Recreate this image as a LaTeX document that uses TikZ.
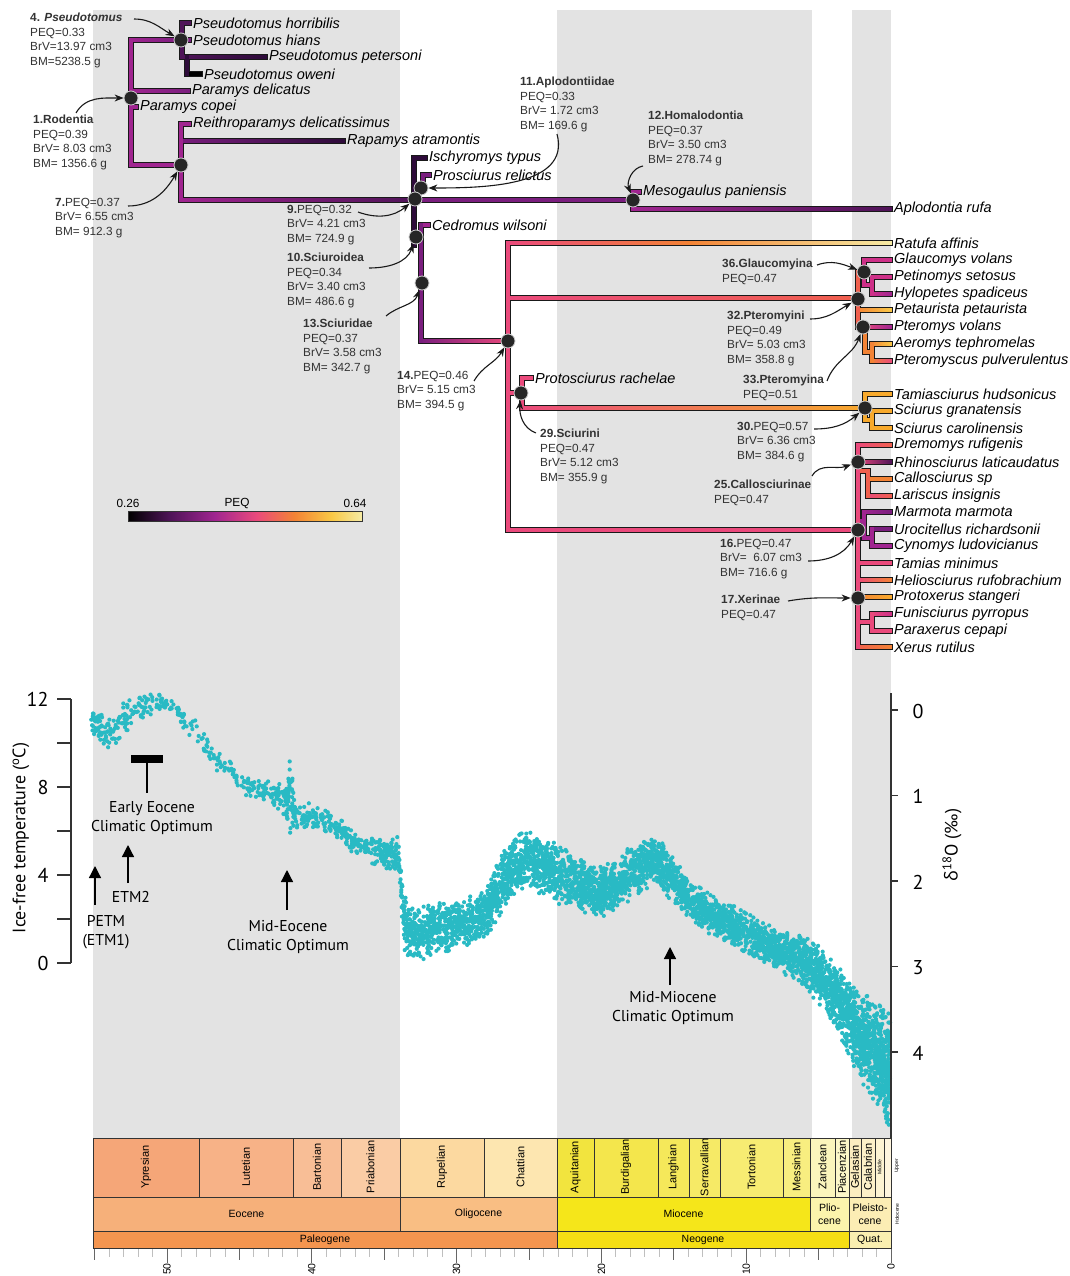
\documentclass[tikz,border=0pt]{standalone}
\usepackage{fontspec}
\setmainfont{Liberation Sans}
\newfontfamily\plotfont{PT Sans}
\newfontfamily\grkfont{Open Sans}
\usetikzlibrary{arrows.meta,positioning,calc}

% PEQ colour ramp
\definecolor{pq26}{HTML}{000000}
\definecolor{pq30}{HTML}{2E0B3A}
\definecolor{pq33}{HTML}{4F1458}
\definecolor{pq37}{HTML}{7A1E7E}
\definecolor{pq40}{HTML}{A02590}
\definecolor{pq44}{HTML}{CE3088}
\definecolor{pq47}{HTML}{EA4A7C}
\definecolor{pq50}{HTML}{F0604E}
\definecolor{pq53}{HTML}{F38335}
\definecolor{pq57}{HTML}{F7A92C}
\definecolor{pq60}{HTML}{F9C846}
\definecolor{pq64}{HTML}{F6EBA4}
\definecolor{quakeblue}{HTML}{29BAC4}
% time scale
\definecolor{ypr}{HTML}{F5A678}
\definecolor{lut}{HTML}{F7B287}
\definecolor{bar}{HTML}{F8BE96}
\definecolor{pri}{HTML}{FACCA5}
\definecolor{rup}{HTML}{FCD9A0}
\definecolor{cha}{HTML}{FDE6B0}
\definecolor{aqu}{HTML}{F2E43E}
\definecolor{bur}{HTML}{F4E64C}
\definecolor{lan}{HTML}{F5E85A}
\definecolor{ser}{HTML}{F6EA66}
\definecolor{tor}{HTML}{F7EC72}
\definecolor{mes}{HTML}{F8EE80}
\definecolor{zan}{HTML}{FBF5BC}
\definecolor{pia}{HTML}{FCF7C8}
\definecolor{gel}{HTML}{FCEDC0}
\definecolor{cal}{HTML}{FDF0C8}
\definecolor{mdl}{HTML}{FDF3D2}
\definecolor{upp}{HTML}{FEF5DE}
\definecolor{eoc}{HTML}{F6B07A}
\definecolor{oli}{HTML}{F9BE83}
\definecolor{mio}{HTML}{F5E61A}
\definecolor{pli}{HTML}{FBF4AC}
\definecolor{ple}{HTML}{FCEDB4}
\definecolor{pal}{HTML}{F4954F}
\definecolor{neo}{HTML}{F5DE14}
\definecolor{qua}{HTML}{FAEFB0}

\pgfdeclarehorizontalshading{peqbar}{100bp}{color(0bp)=(pq26); color(25bp)=(pq26); color(34bp)=(pq33); color(43.5bp)=(pq40); color(52.5bp)=(pq47); color(60.5bp)=(pq53); color(68.5bp)=(pq60); color(75bp)=(pq64); color(100bp)=(pq64)}

\pgfdeclarelayer{bands}
\pgfdeclarelayer{outline}
\pgfsetlayers{bands,outline,main}

% tree branch: colour, path
\newcommand\tb[2]{%
  \begin{pgfonlayer}{outline}\draw[tbout] #2;\end{pgfonlayer}
  \draw[tbin,#1] #2;}
% shaded horizontal branch: x1, y, x2, colour1, colour2
\newcommand\tg[5]{%
  \begin{pgfonlayer}{outline}\draw[tbout] (#1,#2) -- (#3,#2);\end{pgfonlayer}
  \shade[left color=#4,right color=#5] ({#1-1.9},{#2-1.9}) rectangle ({#3+1.9},{#2+1.9});}

\begin{document}
\begin{tikzpicture}[x=1pt,y=-1pt,
  tbout/.style={line width=6pt,black!90,line cap=rect},
  tbin/.style={line width=3.8pt,line cap=rect},
  taxon/.style={anchor=west,inner xsep=3pt,inner ysep=0pt,font=\fontsize{14.5}{16}\selectfont\itshape},
  anno/.style={anchor=north west,align=left,inner sep=0pt,text=black!80,font=\fontsize{11.8}{14.5}\selectfont},
  callarr/.style={-{Stealth[length=9pt,width=7pt]},line width=1.1pt,black!90},
  ndot/.style={circle,fill=black!85,draw=white!80!black,line width=0.8pt,minimum size=14pt,inner sep=0pt},
  band/.style={fill=black!11},
  tsbox/.style={draw=black!80,line width=0.7pt},
  tsrot/.style={rotate=90,font=\fontsize{11}{12}\selectfont},
  tslab/.style={font=\fontsize{10.5}{12.5}\selectfont,align=center},
  uparr/.style={-{Triangle[length=12pt,width=12pt]},line width=1.3pt},
  clab/.style={font=\plotfont\fontsize{15.7}{19}\selectfont,align=center},
  axnum/.style={font=\plotfont\fontsize{20}{20}\selectfont}]

\useasboundingbox (0,0) rectangle (1070,1276);

% epoch bands
\begin{pgfonlayer}{bands}
  \fill[band] (93,10) rectangle (400,1138);
  \fill[band] (557,10) rectangle (812,1138);
  \fill[band] (852,10) rectangle (891,1138);
\end{pgfonlayer}

%%% tree: horizontals
\tg{131}{40}{181}{pq40}{pq37}
\tg{131}{91}{188}{pq40}{pq37}
\tb{pq40}{(131,107) -- (136,107)}
\tg{131}{165}{181}{pq40}{pq40}
\tb{pq33}{(182,23) -- (189,23)}
\tb{pq37}{(182,40) -- (189,40)}
\tg{182}{57}{265}{pq33}{pq30}
\tb{pq26}{(187,74) -- (200,74)}
\tb{pq40}{(181,124) -- (189,124)}
\tg{181}{141}{343}{pq37}{pq30}
\tg{181}{200}{415}{pq40}{pq33}
\tb{pq30}{(414,158) -- (425,158)}
\tb{pq37}{(423,175) -- (429,175)}
\tg{414}{200}{633}{pq37}{pq37}
\tb{pq40}{(633,192) -- (639,192)}
\tg{633}{209}{890}{pq40}{pq33}
\tb{pq40}{(421,225) -- (428,225)}
\tg{421}{341}{508}{pq37}{pq47}
% Sciuridae
\tg{508}{243}{690}{pq47}{pq53}
\tg{690}{243}{890}{pq53}{pq64}
\tg{508}{298}{858}{pq47}{pq50}
\tb{pq47}{(508,393) -- (521,393)}
\tb{pq47}{(522,378) -- (531,378)}
\tg{522}{408}{865}{pq47}{pq57}
\tg{508}{530}{858}{pq47}{pq47}
% Pteromyini
\tb{pq47}{(858,272) -- (864,272)}
\tg{864}{260}{890}{pq44}{pq44}
\tb{pq44}{(864,285) -- (872,285)}
\tb{pq44}{(872,277) -- (890,277)}
\tg{872}{294}{890}{pq44}{pq40}
\tg{858}{310}{890}{pq53}{pq60}
\tg{863}{327}{890}{pq47}{pq40}
\tb{pq53}{(865,352) -- (872,352)}
\tg{872}{344}{890}{pq53}{pq60}
\tg{872}{361}{890}{pq53}{pq47}
% Sciurini
\tb{pq57}{(865,394) -- (890,394)}
\tb{pq57}{(865,420) -- (872,420)}
\tb{pq57}{(872,411) -- (890,411)}
\tb{pq57}{(872,428) -- (890,428)}
% Callosciurinae and Xerinae
\tg{858}{445}{890}{pq47}{pq50}
\tg{858}{462}{890}{pq47}{pq33}
\tb{pq50}{(858,471) -- (868,471)}
\tg{868}{479}{890}{pq53}{pq53}
\tg{868}{496}{890}{pq47}{pq50}
\tb{pq40}{(858,521) -- (864,521)}
\tg{864}{512}{890}{pq40}{pq37}
\tb{pq40}{(864,538) -- (872,538)}
\tb{pq37}{(872,529) -- (890,529)}
\tb{pq40}{(872,546) -- (890,546)}
\tb{pq47}{(858,563) -- (890,563)}
\tg{858}{580}{890}{pq47}{pq53}
\tg{858}{597}{890}{pq53}{pq57}
\tb{pq47}{(858,622) -- (872,622)}
\tg{872}{614}{890}{pq47}{pq44}
\tb{pq47}{(872,631) -- (890,631)}
\tg{858}{647}{890}{pq50}{pq53}

%%% tree: verticals
\tb{pq40}{(131,40) -- (131,165)}
\tb{pq33}{(182,23) -- (182,57)}
\tb{pq30}{(187,57) -- (187,74)}
\tb{pq40}{(181,124) -- (181,200)}
\tb{pq30}{(414,158) -- (414,245)}
\tb{pq37}{(423,175) -- (423,190)}
\tb{pq40}{(633,192) -- (633,209)}
\tb{pq37}{(421,225) -- (421,341)}
\tb{pq47}{(508,243) -- (508,530)}
\tb{pq47}{(522,378) -- (522,408)}
\tb{pq50}{(858,272) -- (858,327)}
\tb{pq44}{(864,260) -- (864,285)}
\tb{pq44}{(872,277) -- (872,294)}
\tb{pq53}{(865,327) -- (865,352)}
\tb{pq53}{(872,344) -- (872,361)}
\tb{pq57}{(865,394) -- (865,420)}
\tb{pq57}{(872,411) -- (872,428)}
\tb{pq47}{(858,445) -- (858,647)}
\tb{pq50}{(868,471) -- (868,496)}
\tb{pq40}{(864,512) -- (864,538)}
\tb{pq40}{(872,529) -- (872,546)}
\tb{pq47}{(872,614) -- (872,631)}

%%% tips
\node[taxon] (t01) at (190,23) {Pseudotomus horribilis};
\node[taxon] (t02) at (190,40) {Pseudotomus hians};
\node[taxon] (t03) at (266,57) {Pseudotomus petersoni};
\node[taxon] (t04) at (201,74) {Pseudotomus oweni};
\node[taxon] (t05) at (189,91) {Paramys delicatus};
\node[taxon] (t06) at (137,107) {Paramys copei};
\node[taxon] (t07) at (190,124) {Reithroparamys delicatissimus};
\node[taxon] (t08) at (344,141) {Rapamys atramontis};
\node[taxon] (t09) at (426,158) {Ischyromys typus};
\node[taxon] (t10) at (430,175) {Prosciurus relictus};
\node[taxon] (t11) at (640,192) {Mesogaulus paniensis};
\node[taxon] (t12) at (891,209) {Aplodontia rufa};
\node[taxon] (t13) at (429,225) {Cedromus wilsoni};
\node[taxon] (t14) at (891,243) {Ratufa affinis};
\node[taxon] (t15) at (891,260) {Glaucomys volans};
\node[taxon] (t16) at (891,277) {Petinomys setosus};
\node[taxon] (t17) at (891,294) {Hylopetes spadiceus};
\node[taxon] (t18) at (891,310) {Petaurista petaurista};
\node[taxon] (t19) at (891,327) {Pteromys volans};
\node[taxon] (t20) at (891,344) {Aeromys tephromelas};
\node[taxon] (t21) at (891,361) {Pteromyscus pulverulentus};
\node[taxon] (t22) at (532,378) {Protosciurus rachelae};
\node[taxon] (t23) at (891,394) {Tamiasciurus hudsonicus};
\node[taxon] (t24) at (891,411) {Sciurus granatensis};
\node[taxon] (t25) at (891,428) {Sciurus carolinensis};
\node[taxon] (t26) at (891,445) {Dremomys rufigenis};
\node[taxon] (t27) at (891,462) {Rhinosciurus laticaudatus};
\node[taxon] (t28) at (891,479) {Callosciurus sp};
\node[taxon] (t29) at (891,496) {Lariscus insignis};
\node[taxon] (t30) at (891,512) {Marmota marmota};
\node[taxon] (t31) at (891,529) {Urocitellus richardsonii};
\node[taxon] (t32) at (891,546) {Cynomys ludovicianus};
\node[taxon] (t33) at (891,563) {Tamias minimus};
\node[taxon] (t34) at (891,580) {Heliosciurus rufobrachium};
\node[taxon] (t35) at (891,597) {Protoxerus stangeri};
\node[taxon] (t36) at (891,614) {Funisciurus pyrropus};
\node[taxon] (t37) at (891,631) {Paraxerus cepapi};
\node[taxon] (t38) at (891,647) {Xerus rutilus};

%%% nodes
\node[ndot] (nPse) at (181,40) {};
\node[ndot] (nRod) at (131,98) {};
\node[ndot] (n7) at (181,165) {};
\node[ndot] (n11) at (421,188) {};
\node[ndot] (n9) at (415,199) {};
\node[ndot] (n12) at (633,200) {};
\node[ndot] (n10) at (416,237) {};
\node[ndot] (n13) at (422,283) {};
\node[ndot] (n14) at (508,341) {};
\node[ndot] (n29) at (521,393) {};
\node[ndot] (n36) at (864,272) {};
\node[ndot] (n32) at (858,299) {};
\node[ndot] (n33) at (863,327) {};
\node[ndot] (n30) at (865,408) {};
\node[ndot] (n25) at (858,462) {};
\node[ndot] (n16) at (858,530) {};
\node[ndot] (n17) at (858,598) {};

%%% node annotations
\node[anno] (a4) at (30,13) {\textbf{4. \textit{Pseudotomus}}\\PEQ=0.33\\BrV=13.97 cm3\\BM=5238.5 g};
\node[anno] (aRod) at (33,115) {\textbf{1.Rodentia}\\PEQ=0.39\\BrV= 8.03 cm3\\BM= 1356.6 g};
\node[anno] (a7) at (55,198) {\textbf{7.}PEQ=0.37\\BrV= 6.55 cm3\\BM= 912.3 g};
\node[anno] (a9) at (287,205) {\textbf{9.}PEQ=0.32\\BrV= 4.21 cm3\\BM= 724.9 g};
\node[anno] (a10) at (287,253) {\textbf{10.Sciuroidea}\\PEQ=0.34\\BrV= 3.40 cm3\\BM= 486.6 g};
\node[anno] (a13) at (303,319) {\textbf{13.Sciuridae}\\PEQ=0.37\\BrV= 3.58 cm3\\BM= 342.7 g};
\node[anno] (a14) at (397,371) {\textbf{14.}PEQ=0.46\\BrV= 5.15 cm3\\BM= 394.5 g};
\node[anno] (a29) at (540,429) {\textbf{29.Sciurini}\\PEQ=0.47\\BrV= 5.12 cm3\\BM= 355.9 g};
\node[anno] (a11) at (520,77) {\textbf{11.Aplodontiidae}\\PEQ=0.33\\BrV= 1.72 cm3\\BM= 169.6 g};
\node[anno] (a12) at (648,111) {\textbf{12.Homalodontia}\\PEQ=0.37\\BrV= 3.50 cm3\\BM= 278.74 g};
\node[anno] (a36) at (722,259) {\textbf{36.Glaucomyina}\\PEQ=0.47};
\node[anno] (a32) at (727,311) {\textbf{32.Pteromyini}\\PEQ=0.49\\BrV= 5.03 cm3\\BM= 358.8 g};
\node[anno] (a33) at (743,375) {\textbf{33.Pteromyina}\\PEQ=0.51};
\node[anno] (a30) at (737,422) {\textbf{30.}PEQ=0.57\\BrV= 6.36 cm3\\BM= 384.6 g};
\node[anno] (a25) at (714,480) {\textbf{25.Callosciurinae}\\PEQ=0.47};
\node[anno] (a16) at (720,539) {\textbf{16.}PEQ=0.47\\BrV=\ \ 6.07 cm3\\BM= 716.6 g};
\node[anno] (a17) at (721,595) {\textbf{17.Xerinae}\\PEQ=0.47};

\coordinate (s4) at (134,19);
\coordinate (sRod) at (76,113);
\coordinate (s7) at (128,206);
\coordinate (s9) at (358,212);
\coordinate (s10) at (369,268);
\coordinate (s13) at (386,316);
\coordinate (s14) at (474,381);
\coordinate (s29) at (536,433);
\coordinate (s11) at (557,134);
\coordinate (s12) at (643,166);
\coordinate (s36) at (817,265);
\coordinate (s32) at (810,319);
\coordinate (s33) at (827,381);
\coordinate (s30) at (814,429);
\coordinate (s25) at (812,476);
\coordinate (s16) at (808,561);
\coordinate (s17) at (788,601);

\draw[callarr] (s4) to[out=0,in=150] (nPse);
\draw[callarr] (sRod) to[out=60,in=180] (nRod);
\draw[callarr] (s7) to[out=0,in=-120] (n7);
\draw[callarr] (s9) to[out=-20,in=-140] (n9);
\draw[callarr] (s10) to[out=0,in=-110] (n10);
\draw[callarr] (s13) to[out=40,in=-110] (n13);
\draw[callarr] (s14) to[out=60,in=-120] (n14);
\draw[callarr] (s29) to[out=160,in=-95] (n29);
\draw[callarr] (s11) to[out=-75,in=0] (n11);
\draw[callarr] (s12) to[out=190,in=110] (n12);
\draw[callarr] (s36) to[out=20,in=160] (n36);
\draw[callarr] (s32) to[out=0,in=-150] (n32);
\draw[callarr] (s33) to[out=70,in=-110] (n33);
\draw[callarr] (s30) to[out=0,in=-140] (n30);
\draw[callarr] (s25) to[out=60,in=200] (n25);
\draw[callarr] (s16) to[out=0,in=-120] (n16);
\draw[callarr] (s17) to[out=10,in=180] (n17);

%%% PEQ colour bar
\shade[shading=peqbar] (128,511) rectangle (362,521);
\draw[black!80,line width=0.6pt] (128,511) rectangle (362,521);
\node[font=\fontsize{11.8}{13}\selectfont] (peqlo) at (128,503) {0.26};
\node[font=\fontsize{11.8}{13}\selectfont] (peqname) at (237,503) {PEQ};
\node[font=\fontsize{11.8}{13}\selectfont] (peqhi) at (355,503) {0.64};

%%% climate curve
\pgfmathsetseed{4}
\foreach \xa/\ya/\sa/\xb/\yb/\sb/\cnt in {
  91/728/20/100/728/20/32, 100/728/18/112/733/14/28, 112/733/14/125/718/18/28,
  125/718/18/140/706/14/28, 140/706/14/165/705/12/38, 165/705/12/180/715/10/18,
  180/715/10/200/735/12/22, 200/735/12/215/760/10/18, 215/760/10/230/768/8/16,
  230/768/8/245/786/9/18, 245/786/9/270/792/12/45, 270/792/12/285/800/15/40,
  285/800/15/290/790/45/35, 290/790/45/295/815/15/28, 295/815/15/320/818/12/55,
  320/818/12/345/835/12/60, 345/835/12/365/850/12/60, 365/850/12/398/855/17/120,
  398/855/17/405/925/28/45, 405/925/28/420/932/28/120, 420/932/28/460/922/24/300,
  460/922/24/485/915/24/190, 485/915/24/505/875/30/190, 505/875/30/525/858/28/190,
  525/858/28/545/868/28/190, 545/868/28/560/875/28/150, 560/875/28/600/892/25/360,
  600/892/25/620/882/25/190, 620/882/25/645/862/25/230, 645/862/25/660/862/22/130,
  660/862/22/680/890/22/170, 680/890/22/700/908/20/170, 700/908/20/740/930/20/320,
  740/930/20/780/950/20/320, 780/950/20/800/958/25/170, 800/958/25/815/972/28/150,
  815/972/28/830/988/28/170, 830/988/28/845/1012/34/190, 845/1012/34/860/1035/42/220,
  860/1035/42/875/1050/48/240, 875/1050/48/890/1075/58/300}{
  \foreach \k in {1,...,\cnt}{
    \pgfmathsetmacro\fr{rnd}
    \pgfmathsetmacro\px{\xa+(\xb-\xa)*\fr}
    \pgfmathsetmacro\py{\ya+(\yb-\ya)*\fr+(\sa+(\sb-\sa)*\fr)*0.55*(rand+rand)}
    \fill[quakeblue] (\px,\py) circle (2.1);
  }
}

%%% temperature axis
\draw[black!80,line width=1.3pt] (71,699) -- (71,963);
\foreach \v in {0,2,...,12}
  \draw[black!80,line width=1.3pt] (57,{963-22*\v}) -- (71,{963-22*\v});
\foreach \v in {0,4,8,12}
  \node[axnum,anchor=east] (tl\v) at (52,{963-22*\v}) {\v};
\node[font=\plotfont\fontsize{18}{20}\selectfont,rotate=90] (tlab) at (21,838) {Ice-free temperature (\textsuperscript{o}C)};

%%% oxygen isotope axis
\draw[black!80,line width=1.3pt] (891,693) -- (891,1138);
\foreach \v in {0,...,4}{
  \draw[black!80,line width=1.3pt] (891,{710+85.5*\v}) -- (898,{710+85.5*\v});
  \node[axnum] (ol\v) at (918,{711+85.5*\v}) {\v};
}
\node[font=\plotfont\fontsize{18}{20}\selectfont,rotate=90] (olab) at (952,845) {{\grkfont δ}\textsuperscript{18}O (‰)};

%%% climate events
\fill (131,755) rectangle (163,763);
\draw[line width=1.3pt] (147,763) -- (147,793);
\node[clab] (eeco) at (152,818) {Early Eocene\\Climatic Optimum};
\coordinate (etmA) at (128,883);
\coordinate (etmB) at (128,845);
\draw[uparr] (etmA) -- (etmB);
\node[clab] (etm2) at (131,897) {ETM2};
\coordinate (petA) at (95,905);
\coordinate (petB) at (95,866);
\draw[uparr] (petA) -- (petB);
\node[clab] (petm) at (106,932) {PETM\\(ETM1)};
\coordinate (meA) at (287,910);
\coordinate (meB) at (287,870);
\draw[uparr] (meA) -- (meB);
\node[clab] (mecop) at (288,937) {Mid-Eocene\\Climatic Optimum};
\coordinate (mmA) at (670,985);
\coordinate (mmB) at (670,947);
\draw[uparr] (mmA) -- (mmB);
\node[clab] (mmcop) at (673,1008) {Mid-Miocene\\Climatic Optimum};

%%% geological time scale
\foreach \xa/\xb/\col/\lab in {93/199/ypr/Ypresian, 199/293/lut/Lutetian, 293/341/bar/Bartonian,
  341/400/pri/Priabonian, 400/484/rup/Rupelian, 484/557/cha/Chattian, 557/594/aqu/Aquitanian,
  594/658/bur/Burdigalian, 658/689/lan/Langhian, 689/720/ser/Serravallian, 720/783/tor/Tortonian,
  783/810/mes/Messinian, 810/835/zan/Zanclean, 835/849/pia/Piacenzian, 849/861/gel/Gelasian,
  861/875/cal/Calabrian}{
  \draw[tsbox,fill=\col] (\xa,1138) rectangle (\xb,1197);
  \node[tsrot] at ({(\xa+\xb)/2},1167) {\lab};
}
\draw[tsbox,fill=mdl] (875,1138) rectangle (884,1197);
\node[rotate=90,font=\fontsize{5}{6}\selectfont] (middle) at (879.5,1167) {Middle};
\draw[tsbox,fill=upp] (884,1138) rectangle (891,1197);
\node[rotate=90,font=\fontsize{5}{6}\selectfont] (upper) at (897,1166) {Upper};
\foreach \xa/\xb/\col/\lab in {93/400/eoc/Eocene, 400/557/oli/Oligocene, 557/810/mio/Miocene,
  810/849/pli/{Plio-\\cene}, 849/891/ple/{Pleisto-\\cene}}{
  \draw[tsbox,fill=\col] (\xa,1197) rectangle (\xb,1231);
  \node[tslab] at ({(\xa+\xb)/2},1214) {\lab};
}
\node[rotate=90,font=\fontsize{5}{6}\selectfont] (holo) at (897,1214) {Holocene};
\foreach \xa/\xb/\col/\lab in {93/557/pal/Paleogene, 557/849/neo/Neogene, 849/891/qua/Quat.}{
  \draw[tsbox,fill=\col] (\xa,1231) rectangle (\xb,1248);
  \node[tslab] at ({(\xa+\xb)/2},1240) {\lab};
}
\foreach \t in {0,...,55}{
  \pgfmathsetmacro\tl{mod(\t,10)==0 ? 14 : (mod(\t,5)==0 ? 11 : 8)}
  \pgfmathsetmacro\tc{mod(\t,5)==0 ? 60 : 25}
  \draw[black!\tc,line width=0.8pt] ({891-14.48*\t},1249) -- ++(0,\tl);
}
\foreach \t in {0,10,...,50}
  \node[rotate=90,anchor=east,inner sep=1pt,font=\fontsize{10.5}{11}\selectfont] at ({891-14.48*\t},1262) {\t};

\end{tikzpicture}
\end{document}
